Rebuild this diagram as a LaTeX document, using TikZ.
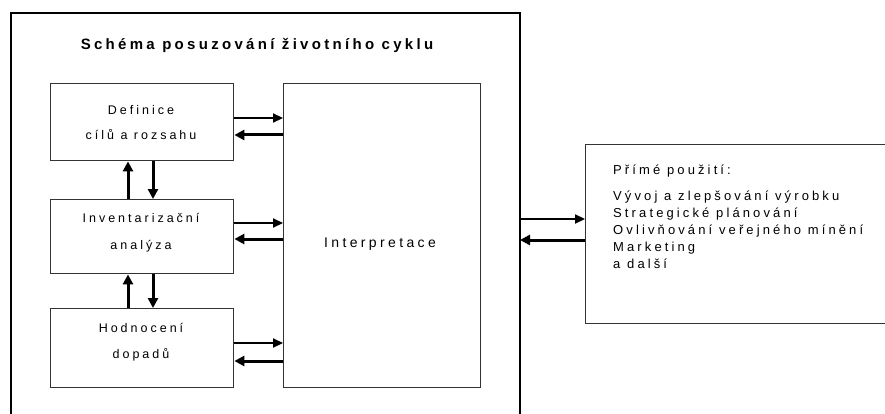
\documentclass[tikz,border=0pt]{standalone}
\usepackage{fontspec}
\setmainfont{Liberation Sans}
\newfontfamily\widesans[LetterSpace=24]{Liberation Sans}
\newfontfamily\widetitle[LetterSpace=22]{Liberation Sans}
\usetikzlibrary{arrows.meta}
\begin{document}
\begin{tikzpicture}[x=1pt,y=-1pt,
  box/.style={draw=black!80,line width=1.4pt,inner sep=0pt,anchor=north west},
  label/.style={font=\widesans\fontsize{12.5}{14}\selectfont,align=center,text=black},
  thin arrow/.style={line width=2.2pt,-{Triangle[length=10pt,width=9pt]}},
  thick arrow/.style={line width=3pt,-{Triangle[length=10pt,width=10pt]}},
]
\useasboundingbox (0,0) rectangle (885,414);
\clip (0,0) rectangle (885,414);

% outer frame, open at the bottom
\coordinate (frameTL) at (11,13);
\coordinate (frameTR) at (520,13);
\draw[line width=1.8pt] (11,414) -- (frameTL) -- (frameTR) -- (520,414);
\node[font=\widetitle\bfseries\fontsize{15}{18}\selectfont,text=black] (title) at (257,45) {Schéma posuzování životního cyklu};

% phase boxes
\node[box,minimum width=183pt,minimum height=77pt] (def) at (50,83) {};
\node[box,minimum width=183pt,minimum height=74pt] (inv) at (50,199) {};
\node[box,minimum width=183pt,minimum height=79pt] (hod) at (50,308) {};
\node[box,minimum width=197pt,minimum height=304pt] (interp) at (283,83) {};
\node[box,minimum width=310pt,minimum height=179pt] (uses) at (585,144) {};

\node[label] (defA) at (141,110) {Definice};
\node[label] (defB) at (141,135) {cílů a rozsahu};
\node[label] (invA) at (141,218) {Inventarizační};
\node[label] (invB) at (141,246) {analýza};
\node[label] (hodA) at (141,328) {Hodnocení};
\node[label] (hodB) at (141,355) {dopadů};
\node[font=\widesans\fontsize{14}{16}\selectfont,text=black] (interpT) at (380,244) {Interpretace};

\node[font=\widesans\fontsize{13}{17}\selectfont,align=left,anchor=north west,inner sep=0pt,text=black] (usesT) at (613,165)
  {Přímé použití:\\[9pt]
   Vývoj a zlepšování výrobku\\
   Strategické plánování\\
   Ovlivňování veřejného mínění\\
   Marketing\\
   a další};

% vertical exchange between phases
\draw[thick arrow] (inv.north -| 128,0) -- (def.south -| 128,0);
\draw[thick arrow] (def.south -| 153,0) -- (inv.north -| 153,0);
\draw[thick arrow] (hod.north -| 128,0) -- (inv.south -| 128,0);
\draw[thick arrow] (inv.south -| 153,0) -- (hod.north -| 153,0);

% exchange with interpretation
\draw[thin arrow] (def.east |- 0,118) -- (interp.west |- 0,118);
\draw[thick arrow] (interp.west |- 0,135) -- (def.east |- 0,135);
\draw[thin arrow] (inv.east |- 0,223) -- (interp.west |- 0,223);
\draw[thick arrow] (interp.west |- 0,239) -- (inv.east |- 0,239);
\draw[thin arrow] (hod.east |- 0,343) -- (interp.west |- 0,343);
\draw[thick arrow] (interp.west |- 0,361) -- (hod.east |- 0,361);

% exchange with direct applications
\draw[thin arrow] (frameTR |- 0,219) -- (uses.west |- 0,219);
\draw[thick arrow] (uses.west |- 0,240) -- (frameTR |- 0,240);
\end{tikzpicture}
\end{document}
